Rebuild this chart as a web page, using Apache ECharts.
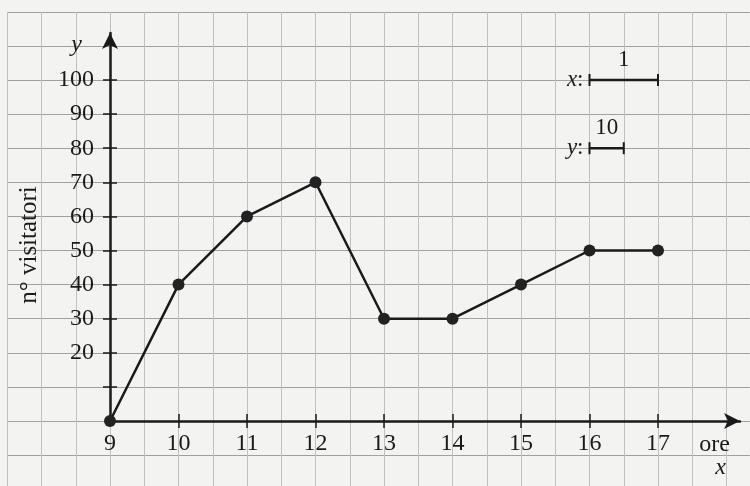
<!DOCTYPE html>
<html>
<head>
<meta charset="utf-8">
<script src="https://cdn.jsdelivr.net/npm/echarts@6/dist/echarts.min.js"></script>
<style>
html,body{margin:0;padding:0;background:#f3f3f1;}
#c{width:750px;height:486px;}
</style>
</head>
<body>
<div id="c"></div>
<script>
// ---- data ----
const hours = [9, 10, 11, 12, 13, 14, 15, 16, 17];
const visitors = [0, 40, 60, 70, 30, 30, 40, 50, 50];
const xTickLabels = [9, 10, 11, 12, 13, 14, 15, 16, 17];
const xTicks = [10, 11, 12, 13, 14, 15, 16, 17];
const yTickLabels = [20, 30, 40, 50, 60, 70, 80, 90, 100];
const yTicks = [10, 20, 30, 40, 50, 60, 70, 80, 90, 100];
const scaleXBar = [[16, 100], [16.5, 100], [17, 100]];
const scaleXText = ['x', '1'];
const scaleYBar = [[16, 80], [16.25, 80], [16.5, 80]];
const scaleYText = ['y', '10'];

const FONT = 'Liberation Serif';
const INK = '#1a1a1a';

const chart = echarts.init(document.getElementById('c'));

function scaleSeries(bar, txt) {
  return {
    type: 'line',
    xAxisIndex: 1, yAxisIndex: 1,
    clip: false,
    symbol: 'rect',
    symbolSize: [2, 12],
    lineStyle: { color: INK, width: 2.5 },
    itemStyle: { color: INK },
    z: 5,
    data: [
      { value: bar[0], label: { show: true, position: 'left', distance: 5,
          formatter: '{i|' + txt[0] + '}:', fontFamily: FONT, fontSize: 23, color: INK,
          rich: { i: { fontStyle: 'italic', fontFamily: FONT, fontSize: 23, color: INK } } } },
      { value: bar[1], symbolSize: 0, label: { show: true, position: 'top', distance: 9,
          formatter: txt[1], fontFamily: FONT, fontSize: 23, color: INK } },
      { value: bar[2] }
    ]
  };
}

const hidden = { axisLine: { show: false }, axisTick: { show: false }, axisLabel: { show: false }, splitLine: { show: false } };

chart.setOption({
  animation: false,
  backgroundColor: '#f3f3f1',
  grid: [
    { left: 7.25, right: 0.2, top: 11.8, bottom: 0 },
    { left: 7.25, right: 0.2, top: 11.8, bottom: 30.9 },
    { left: 110, right: 10, top: 33, bottom: 65 }
  ],
  xAxis: [
    Object.assign({}, hidden, { type: 'value', gridIndex: 0, min: 7.5, max: 18.34, interval: 0.5,
      splitLine: { show: true, lineStyle: { color: '#c0c0c0', width: 1 } } }),
    Object.assign({}, hidden, { type: 'value', gridIndex: 1, min: 7.5, max: 18.34 }),
    { type: 'value', gridIndex: 2, min: 9, max: 18.197, position: 'bottom',
      axisLine: { show: true, onZero: false, symbol: ['none', 'arrow'], symbolSize: [12, 16],
        lineStyle: { color: INK, width: 2.5 } },
      axisTick: { show: true, customValues: xTicks, length: 7, lineStyle: { color: INK, width: 1.5 } },
      axisLabel: { show: true, customValues: xTickLabels, margin: 11, fontFamily: FONT, fontSize: 24, color: INK },
      splitLine: { show: false },
      name: '{a|ore}\n{b|x}', nameLocation: 'end', nameGap: -10,
      nameTextStyle: { align: 'right', verticalAlign: 'top', padding: [12, 0, 0, 0],
        rich: { a: { fontFamily: FONT, fontSize: 24, color: INK, lineHeight: 23, align: 'right' },
                b: { fontFamily: FONT, fontSize: 24, fontStyle: 'italic', color: INK, lineHeight: 23, align: 'right', padding: [0, 4, 0, 0] } } } },
    { type: 'value', gridIndex: 2, min: 9, max: 18.197, position: 'bottom',
      axisLine: { show: false, onZero: false },
      axisTick: { show: true, inside: true, customValues: xTicks, length: 7, lineStyle: { color: INK, width: 1.5 } },
      axisLabel: { show: false }, splitLine: { show: false } }
  ],
  yAxis: [
    Object.assign({}, hidden, { type: 'value', gridIndex: 0, min: 0, max: 1 }),
    Object.assign({}, hidden, { type: 'value', gridIndex: 1, min: -10, max: 120, interval: 10,
      splitLine: { show: true, lineStyle: { color: '#a0a0a0', width: 1 } } }),
    { type: 'value', gridIndex: 2, min: 0, max: 113.8, position: 'left',
      axisLine: { show: true, onZero: false, symbol: ['none', 'arrow'], symbolSize: [12, 16],
        lineStyle: { color: INK, width: 2.5 } },
      axisTick: { show: true, customValues: yTicks, length: 7, lineStyle: { color: INK, width: 1.5 } },
      axisLabel: { show: true, customValues: yTickLabels, margin: 16, fontFamily: FONT, fontSize: 24, color: INK },
      splitLine: { show: false },
      name: 'y', nameLocation: 'end', nameGap: -12,
      nameTextStyle: { fontFamily: FONT, fontSize: 24, fontStyle: 'italic', color: INK,
        align: 'right', verticalAlign: 'middle', padding: [0, 28, 0, 0] } },
    { type: 'value', gridIndex: 2, min: 0, max: 113.8, position: 'left',
      axisLine: { show: false, onZero: false },
      axisTick: { show: true, inside: true, customValues: yTicks, length: 7, lineStyle: { color: INK, width: 1.5 } },
      axisLabel: { show: false }, splitLine: { show: false },
      name: 'n° visitatori', nameLocation: 'middle', nameGap: 68, nameRotate: 90,
      nameTextStyle: { fontFamily: FONT, fontSize: 25, color: INK, padding: [0, 36, 0, 0] } }
  ],
  series: [
    {
      type: 'line', xAxisIndex: 1, yAxisIndex: 1, clip: false,
      data: hours.map((h, i) => [h, visitors[i]]),
      symbol: 'circle', symbolSize: 12,
      lineStyle: { color: INK, width: 2.5 },
      itemStyle: { color: '#222' },
      z: 6
    },
    scaleSeries(scaleXBar, scaleXText),
    scaleSeries(scaleYBar, scaleYText)
  ]
});
</script>
</body>
</html>
